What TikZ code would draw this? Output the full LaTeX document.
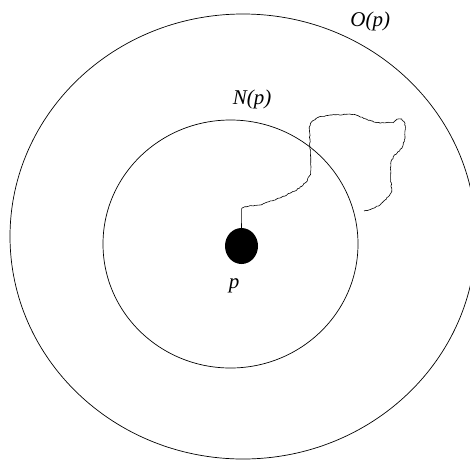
\documentclass[tikz,border=0pt]{standalone}
\usepackage{fontspec}
\setmainfont{Liberation Serif}
\usetikzlibrary{shapes.geometric, decorations.pathmorphing}

\begin{document}
\begin{tikzpicture}[x=1pt, y=-1pt,
        ring/.style={draw, line width=0.7pt},
        walk/.style={draw, line width=0.6pt, line join=round},
        lbl/.style={font=\fontsize{21}{23}\selectfont\itshape, inner sep=0pt}
    ]
    \pgfmathsetseed{7}
    \useasboundingbox (0,0) rectangle (470,461);

    % the two neighbourhoods
    \draw[ring] (243,236.5) ellipse [x radius=233, y radius=222.5];
    \draw[ring] (230.5,244) ellipse [x radius=127.5, y radius=124];

    \node (p) [ellipse, fill=black, minimum width=33pt, minimum height=36pt, inner sep=0pt] at (241.5,246) {};

    \node (plabel) [lbl] at (234,285.5) {p};
    \node (nlabel) [lbl] at (252,99.3) {N(p)};
    \node (olabel) [lbl] at (370.3,21) {O(p)};

    \coordinate (bend) at (241.7,208.3);
    \coordinate (walkend) at (364,211);

    % random walk leaving N(p)
    \draw[walk] (p.north) -- (bend);
    \draw[walk, decorate, decoration={random steps, segment length=1.6pt, amplitude=0.45pt}]
        (bend) -- (245,206.7) -- (260,205) -- (280,198) -- (296.7,190) -- (306.7,181.7)
        -- (310.7,173.3) -- (310.7,160) -- (310,146.7) -- (309.3,126.7) -- (311.7,121.7)
        -- (318.3,117.3) -- (330,115) -- (353.3,114.3) -- (366.7,119.3) -- (376.7,122.7)
        -- (393.3,122.7) -- (396.7,119.3) -- (401.7,119) -- (405,123.3) -- (405,138.3)
        -- (401.7,148.3) -- (393.3,156.7) -- (390.7,163.3) -- (390.7,180) -- (391.7,191.7)
        -- (388.3,196.7) -- (380,205) -- (373.3,208.3) -- (walkend);

\end{tikzpicture}
\end{document}
